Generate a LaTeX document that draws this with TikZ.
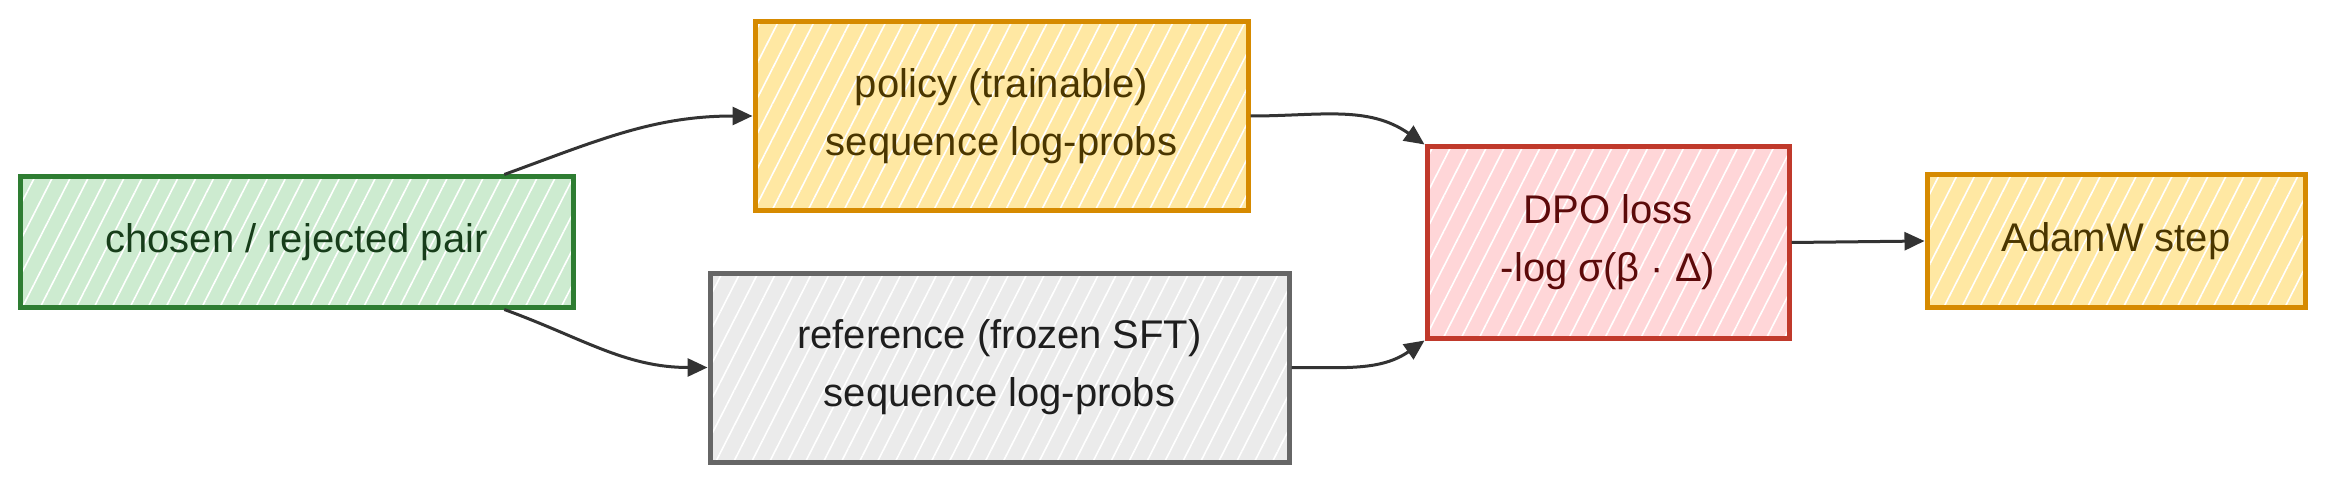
\documentclass[tikz,border=0pt]{standalone}
\usepackage{fontspec}
\setmainfont{Liberation Sans}
\usetikzlibrary{arrows.meta,patterns.meta}

\definecolor{pairfill}{HTML}{CDEBD0}
\definecolor{pairline}{HTML}{2E7D32}
\definecolor{pairtext}{HTML}{173D1A}
\definecolor{polfill}{HTML}{FFE8A3}
\definecolor{polline}{HTML}{D68A00}
\definecolor{poltext}{HTML}{4A3600}
\definecolor{reffill}{HTML}{EBEBEB}
\definecolor{refline}{HTML}{666666}
\definecolor{reftext}{HTML}{1E1E1E}
\definecolor{lossfill}{HTML}{FFD6D8}
\definecolor{lossline}{HTML}{C0392B}
\definecolor{losstext}{HTML}{5C0A0A}
\definecolor{arrowc}{HTML}{333333}

\tikzset{
  box/.style n args={3}{preaction={fill=#1},
    preaction={pattern={Lines[angle=63,distance=8pt,line width=0.8pt]},pattern color=white},
    draw=#2, text=#3, line width=2.5pt, inner sep=0pt, align=center,
    font=\fontsize{20pt}{29pt}\selectfont},
  flow/.style={draw=arrowc, line width=1.5pt, -{Triangle[length=10pt,width=9pt]}}
}

\begin{document}
\begin{tikzpicture}[x=0.5pt,y=-0.5pt]
    \useasboundingbox (0,0) rectangle (2352,492);
\node[box={pairfill}{pairline}{pairtext}, minimum width=276.5pt, minimum height=65pt] (pair) at (296.5,242) {chosen / rejected pair}; % input
\node[box={polfill}{polline}{poltext}, minimum width=246.5pt, minimum height=94pt] (policy) at (1001.5,116) {policy (trainable)\\sequence log-probs}; % policy
\node[box={reffill}{refline}{reftext}, minimum width=289.5pt, minimum height=94.5pt] (ref) at (999.5,367.5) {reference (frozen SFT)\\sequence log-probs}; % reference
\node[box={lossfill}{lossline}{losstext}, minimum width=181pt, minimum height=95.5pt] (loss) at (1608,242.5) {DPO loss\\-log σ(β · Δ)}; % loss
\node[box={polfill}{polline}{poltext}, minimum width=189pt, minimum height=66pt] (adamw) at (2116,241) {AdamW step}; % optimizer
\draw[flow] (pair.18.5) to[out=20,in=180] (policy.west); % pair to policy
\draw[flow] (pair.-18.5) to[out=-20,in=180] (ref.west); % pair to ref
\draw[flow] (policy.east) to[out=0,in=145] (loss.north west); % policy to loss
\draw[flow] (ref.east) to[out=0,in=-145] (loss.south west); % ref to loss
\draw[flow] (loss.east) -- (adamw.west); % loss to step

    \end{tikzpicture}
\end{document}
